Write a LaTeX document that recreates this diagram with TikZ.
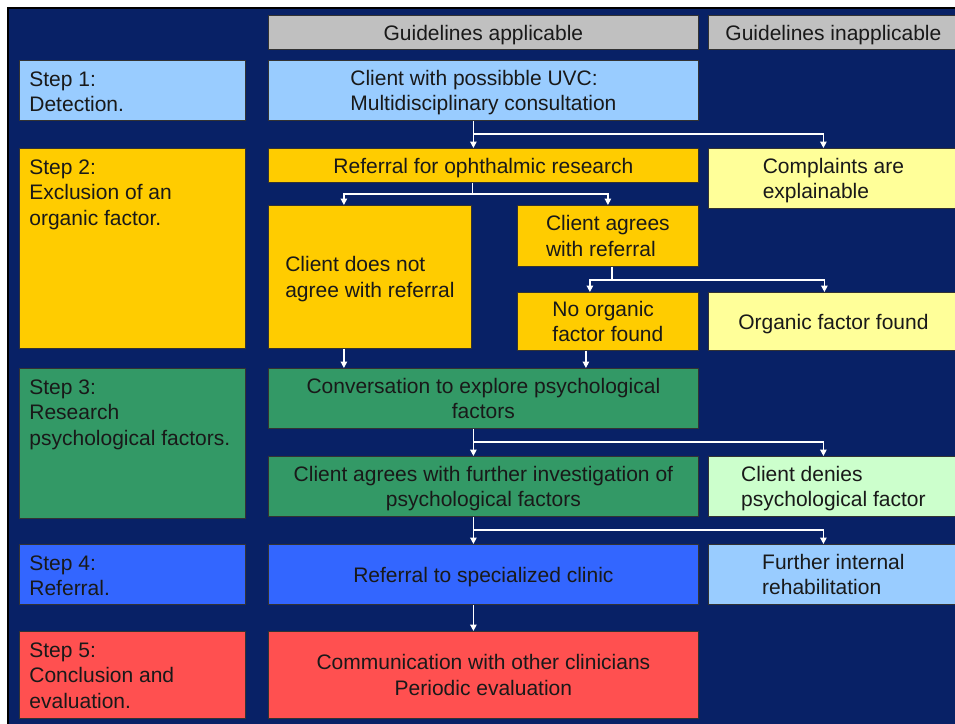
\documentclass[tikz,border=0pt]{standalone}
\usepackage{fontspec}
\setmainfont{Liberation Sans}
\usetikzlibrary{arrows.meta}
\definecolor{navy}{RGB}{8,33,102}
\definecolor{headgray}{HTML}{C0C0C0}
\definecolor{skyblue}{HTML}{99CCFF}
\definecolor{amber}{HTML}{FFCC00}
\definecolor{paleyellow}{HTML}{FFFF99}
\definecolor{seagreen}{HTML}{339966}
\definecolor{palegreen}{HTML}{CCFFCC}
\definecolor{royal}{HTML}{3366FF}
\definecolor{coral}{HTML}{FF5050}
\newcommand{\steptext}[2]{\parbox[t][#1][t]{206pt}{\vspace*{2pt}\raggedright #2}}

\begin{document}
\begin{tikzpicture}[x=1pt, y=-1pt, font=\fontsize{21}{25.5}\selectfont,
  box/.style={draw=black!80, line width=0.8pt, anchor=north west, inner sep=0pt, text=black!90},
  stepbox/.style={box, inner xsep=10pt, inner ysep=9pt},
  mainbox/.style={box, minimum width=430pt, align=center, text depth=-1pt},
  sidebox/.style={box, minimum width=250pt, align=left, text depth=-1pt},
  flow/.style={-{Triangle[width=6.5pt,length=6.5pt]}, white, line width=1.4pt}]
\useasboundingbox (0,0) rectangle (955,723);
\clip (0,0) rectangle (955,723);
\fill[white] (0,0) rectangle (955,723);
\draw[line width=2pt, fill=navy] (8,8) rectangle (975,745);

\node[mainbox, fill=headgray, minimum height=34pt] (applicable) at (268,15) {Guidelines applicable};
\node[sidebox, fill=headgray, minimum height=34pt] (inapplicable) at (708,15) {Guidelines inapplicable};

\node[stepbox, fill=skyblue] (step1) at (19,60) {\steptext{42pt}{Step 1:\\Detection.}};
\node[stepbox, fill=amber] (step2) at (19,148) {\steptext{182pt}{Step 2:\\Exclusion of an\\organic factor.}};
\node[stepbox, fill=seagreen] (step3) at (19,368) {\steptext{132pt}{Step 3:\\Research\\psychological factors.}};
\node[stepbox, fill=royal] (step4) at (19,544) {\steptext{42pt}{Step 4:\\Referral.}};
\node[stepbox, fill=coral] (step5) at (19,631) {\steptext{69pt}{Step 5:\\Conclusion and\\evaluation.}};

\node[mainbox, fill=skyblue, minimum height=60pt, align=left] (uvc) at (268,60) {Client with possibble UVC:\\Multidisciplinary consultation};
\node[mainbox, fill=amber, minimum height=34pt] (referral) at (268,148) {Referral for ophthalmic research};
\node[sidebox, fill=paleyellow, minimum height=60pt] (complaints) at (708,148) {Complaints are\\explainable};
\node[mainbox, fill=amber, minimum width=203pt, minimum height=143pt, align=left] (notagree) at (268,205) {Client does not\\agree with referral};
\node[mainbox, fill=amber, minimum width=181pt, minimum height=61pt, align=left] (agree) at (517,205) {Client agrees\\with referral};
\node[mainbox, fill=amber, minimum width=181pt, minimum height=58pt, align=left] (noorganic) at (517,292) {No organic\\factor found};
\node[sidebox, fill=paleyellow, minimum height=58pt] (organic) at (708,292) {Organic factor found};
\node[mainbox, fill=seagreen, minimum height=60pt] (conversation) at (268,368) {Conversation to explore psychological\\factors};
\node[mainbox, fill=seagreen, minimum height=60pt] (further) at (268,456) {Client agrees with further investigation of\\psychological factors};
\node[sidebox, fill=palegreen, minimum height=60pt] (denies) at (708,456) {Client denies\\psychological factor};
\node[mainbox, fill=royal, minimum height=60pt] (clinic) at (268,544) {Referral to specialized clinic};
\node[sidebox, fill=skyblue, minimum height=60pt] (rehab) at (708,544) {Further internal\\rehabilitation};
\node[mainbox, fill=coral, minimum height=87pt] (communication) at (268,631) {Communication with other clinicians\\Periodic evaluation};

\draw[flow] ([xshift=-10pt]uvc.south) -- ([xshift=-10pt]referral.north);
\draw[flow] ([xshift=-10pt]uvc.south) -- ++(0,13) -| ([xshift=-10pt]complaints.north);
\draw[flow] ([xshift=-11pt]referral.south) -- ++(0,11) -| ([xshift=-26pt]notagree.north);
\draw[flow] ([xshift=-11pt]referral.south) -- ++(0,11) -| (agree.north);
\draw[flow] ([xshift=4pt]agree.south) -- ++(0,13) -| ([xshift=-18pt]noorganic.north);
\draw[flow] ([xshift=4pt]agree.south) -- ++(0,13) -| ([xshift=-9pt]organic.north);
\coordinate (nd) at ([xshift=-26pt]notagree.south);
\coordinate (no) at ([xshift=-22pt]noorganic.south);
\draw[flow] (nd) -- (nd |- conversation.north);
\draw[flow] (no) -- (no |- conversation.north);
\draw[flow] ([xshift=-10pt]conversation.south) -- ([xshift=-10pt]further.north);
\draw[flow] ([xshift=-10pt]conversation.south) -- ++(0,13) -| ([xshift=-10pt]denies.north);
\draw[flow] ([xshift=-10pt]further.south) -- ([xshift=-10pt]clinic.north);
\draw[flow] ([xshift=-10pt]further.south) -- ++(0,13) -| ([xshift=-10pt]rehab.north);
\draw[flow] ([xshift=-10pt]clinic.south) -- ([xshift=-10pt]communication.north);
\end{tikzpicture}
\end{document}
